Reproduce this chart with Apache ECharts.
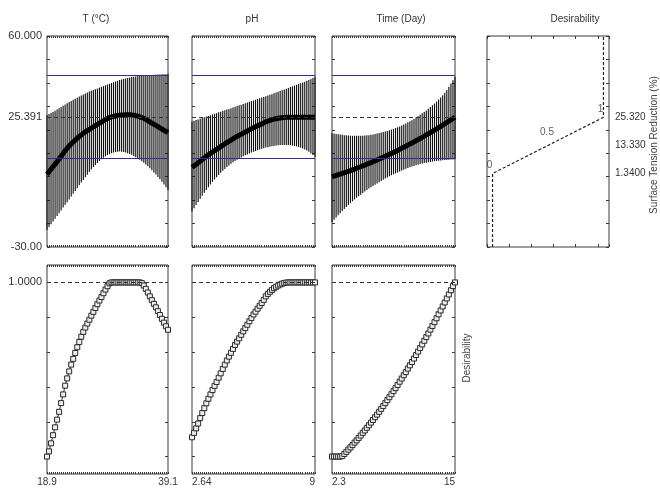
<!DOCTYPE html>
<html lang="en">
<head>
<meta charset="UTF-8">
<title>Desirability profile</title>
<style>
    html, body { margin: 0; padding: 0; background: #fff; }
    #chart { width: 660px; height: 488px; }
</style>
</head>
<body>
<div id="chart"></div>
<script src="https://cdn.jsdelivr.net/npm/echarts@6.0.0/dist/echarts.min.js"></script>
<script type="text/javascript">
    // factors and the labels at both ends of their ranges
    var factorNames = ['T (°C)', 'pH', 'Time (Day)'];
    var factorMin = ['18.9', '2.64', '2.3'];
    var factorMax = ['39.1', '9', '15'];

    // Surface Tension Reduction (%) : prediction and confidence limits on the 61 grid points
    var predT = [1.0, 2.07, 3.17, 4.3, 5.37, 6.43, 7.5, 8.7, 9.9, 11.1, 12.1, 13.07, 14.0, 14.8, 15.6, 16.4, 17.13, 17.83, 18.5, 19.1, 19.67, 20.2, 20.73, 21.27, 21.8, 22.33, 22.83, 23.3, 23.83, 24.33, 24.8, 25.2, 25.5, 25.7, 25.9, 26.07, 26.2, 26.27, 26.33, 26.4, 26.4, 26.37, 26.3, 26.17, 26.0, 25.8, 25.53, 25.23, 24.9, 24.43, 23.93, 23.4, 22.87, 22.37, 21.9, 21.37, 20.83, 20.3, 19.77, 19.27, 18.8];
    var lowT = [-22.7, -21.5, -20.3, -19.1, -17.97, -16.8, -15.6, -14.4, -13.2, -12.0, -10.87, -9.7, -8.5, -7.3, -6.1, -4.9, -3.7, -2.53, -1.4, -0.27, 0.87, 2.0, 3.07, 4.07, 5.0, 5.87, 6.67, 7.4, 8.07, 8.67, 9.2, 9.6, 9.97, 10.3, 10.5, 10.63, 10.7, 10.63, 10.5, 10.3, 10.03, 9.7, 9.3, 8.83, 8.33, 7.8, 7.2, 6.57, 5.9, 5.17, 4.4, 3.6, 2.73, 1.83, 0.9, -0.1, -1.13, -2.2, -3.33, -4.5, -5.7];
    var highT = [26.3, 26.77, 27.2, 27.6, 28.13, 28.67, 29.2, 29.73, 30.27, 30.8, 31.33, 31.83, 32.3, 32.77, 33.23, 33.7, 34.17, 34.63, 35.1, 35.5, 35.9, 36.3, 36.63, 36.97, 37.3, 37.63, 37.97, 38.3, 38.63, 38.97, 39.3, 39.63, 39.97, 40.3, 40.63, 40.93, 41.2, 41.47, 41.7, 41.9, 42.1, 42.3, 42.5, 42.63, 42.77, 42.9, 42.97, 43.03, 43.1, 43.17, 43.23, 43.3, 43.37, 43.43, 43.5, 43.57, 43.63, 43.7, 43.7, 43.73, 43.8];
    var desT = [0, 0.030, 0.076, 0.123, 0.168, 0.212, 0.257, 0.307, 0.357, 0.407, 0.449, 0.489, 0.528, 0.561, 0.595, 0.628, 0.658, 0.688, 0.716, 0.741, 0.764, 0.786, 0.809, 0.831, 0.853, 0.875, 0.896, 0.916, 0.938, 0.959, 0.978, 0.995, 1, 1, 1, 1, 1, 1, 1, 1, 1, 1, 1, 1, 1, 1, 1, 0.996, 0.982, 0.963, 0.942, 0.920, 0.898, 0.877, 0.857, 0.835, 0.813, 0.791, 0.769, 0.748, 0.728];

    var predPH = [4.0, 4.6, 5.23, 5.9, 6.63, 7.33, 8.0, 8.67, 9.3, 9.9, 10.5, 11.07, 11.6, 12.2, 12.8, 13.4, 14.0, 14.57, 15.1, 15.63, 16.17, 16.7, 17.17, 17.63, 18.1, 18.57, 19.03, 19.5, 19.97, 20.43, 20.9, 21.3, 21.7, 22.1, 22.5, 22.93, 23.4, 23.73, 24.03, 24.3, 24.53, 24.73, 24.9, 25.03, 25.15, 25.25, 25.30, 25.34, 25.35, 25.36, 25.36, 25.37, 25.38, 25.38, 25.38, 25.39, 25.39, 25.39, 25.39, 25.39, 25.39];
    var lowPH = [-14.9, -13.5, -12.13, -10.8, -9.47, -8.17, -6.9, -5.7, -4.5, -3.3, -2.23, -1.2, -0.2, 0.73, 1.63, 2.5, 3.3, 4.07, 4.8, 5.47, 6.1, 6.7, 7.23, 7.73, 8.2, 8.67, 9.1, 9.5, 9.9, 10.27, 10.6, 10.93, 11.27, 11.6, 11.87, 12.13, 12.4, 12.6, 12.8, 13.0, 13.13, 13.27, 13.4, 13.47, 13.5, 13.5, 13.5, 13.47, 13.4, 13.27, 13.1, 12.9, 12.63, 12.33, 12.0, 11.6, 11.13, 10.6, 9.93, 9.23, 8.5];
    var highPH = [23.5, 23.83, 24.13, 24.4, 24.73, 25.03, 25.3, 25.63, 25.93, 26.2, 26.53, 26.83, 27.1, 27.43, 27.73, 28.0, 28.33, 28.63, 28.9, 29.23, 29.53, 29.8, 30.13, 30.43, 30.7, 31.03, 31.33, 31.6, 31.93, 32.23, 32.5, 32.83, 33.13, 33.4, 33.73, 34.03, 34.3, 34.63, 34.93, 35.2, 35.53, 35.87, 36.2, 36.53, 36.87, 37.2, 37.53, 37.87, 38.2, 38.53, 38.87, 39.2, 39.53, 39.87, 40.2, 40.53, 40.87, 41.2, 41.67, 42.13, 42.6];
    var desPH = [0.111, 0.136, 0.162, 0.190, 0.221, 0.250, 0.278, 0.306, 0.332, 0.357, 0.382, 0.406, 0.428, 0.453, 0.478, 0.503, 0.528, 0.552, 0.574, 0.596, 0.618, 0.641, 0.660, 0.679, 0.699, 0.719, 0.738, 0.757, 0.777, 0.796, 0.816, 0.832, 0.849, 0.866, 0.882, 0.900, 0.920, 0.934, 0.946, 0.957, 0.967, 0.975, 0.982, 0.988, 0.993, 0.997, 0.999, 1, 1, 1, 1, 1, 1, 1, 1, 1, 1, 1, 1, 1, 1];

    var predTime = [0.00, 0.27, 0.54, 0.82, 1.11, 1.40, 1.69, 1.99, 2.30, 2.61, 2.93, 3.25, 3.58, 3.91, 4.24, 4.59, 4.93, 5.29, 5.65, 6.01, 6.38, 6.75, 7.13, 7.51, 7.90, 8.30, 8.70, 9.10, 9.51, 9.93, 10.35, 10.77, 11.20, 11.64, 12.08, 12.53, 12.98, 13.44, 13.90, 14.37, 14.84, 15.32, 15.80, 16.29, 16.78, 17.28, 17.79, 18.30, 18.81, 19.33, 19.85, 20.38, 20.92, 21.46, 22.01, 22.56, 23.11, 23.67, 24.24, 24.81, 25.39];
    var lowTime = [-19.4, -18.4, -17.43, -16.5, -15.57, -14.67, -13.8, -12.93, -12.1, -11.3, -10.5, -9.73, -9.0, -8.33, -7.67, -7.0, -6.33, -5.7, -5.1, -4.5, -3.93, -3.4, -2.87, -2.33, -1.8, -1.33, -0.8, -0.35, 0.15, 0.6, 1.0, 1.4, 1.8, 2.2, 2.6, 3.0, 3.4, 3.73, 4.03, 4.3, 4.57, 4.83, 5.1, 5.37, 5.6, 5.8, 5.93, 6.1, 6.3, 6.43, 6.57, 6.7, 6.77, 6.87, 7.0, 7.07, 7.13, 7.2, 7.27, 7.33, 7.4];
    var highTime = [18.6, 18.4, 18.23, 18.1, 17.97, 17.83, 17.7, 17.63, 17.57, 17.5, 17.43, 17.4, 17.4, 17.4, 17.43, 17.5, 17.57, 17.63, 17.7, 17.83, 18.0, 18.2, 18.4, 18.6, 18.8, 19.0, 19.23, 19.5, 19.77, 20.07, 20.4, 20.73, 21.07, 21.4, 21.8, 22.23, 22.7, 23.17, 23.63, 24.1, 24.63, 25.2, 25.8, 26.4, 27.0, 27.6, 28.27, 28.97, 29.7, 30.43, 31.2, 32.0, 32.87, 33.77, 34.7, 35.77, 36.97, 38.3, 39.7, 41.13, 42.6];
    var desTime = [0, 0, 0, 0, 0, 0.003, 0.015, 0.027, 0.040, 0.053, 0.066, 0.080, 0.093, 0.107, 0.121, 0.136, 0.150, 0.165, 0.180, 0.195, 0.210, 0.226, 0.241, 0.257, 0.274, 0.290, 0.307, 0.324, 0.341, 0.358, 0.376, 0.393, 0.411, 0.430, 0.448, 0.467, 0.485, 0.505, 0.524, 0.543, 0.563, 0.583, 0.603, 0.623, 0.644, 0.665, 0.686, 0.707, 0.729, 0.750, 0.772, 0.794, 0.817, 0.839, 0.862, 0.885, 0.908, 0.931, 0.955, 0.979, 1];

    // current prediction and its confidence limits
    var currentValue = 25.391;
    var ciLimits = [7.7, 43.1];

    // response axis
    var yMin = -30, yMax = 60;
    var yTickValues = [-30, -20, -10, 0, 10, 20, 30, 40, 50, 60];
    var yLabelValues = [60, 25.391, -30];
    var yLabelTexts = ['60.000', '25.391', '-30.00'];

    // desirability function of the response
    var desLevels = [1.34, 13.33, 25.32];
    var desScores = [0, 0.5, 1];
    var desLevelTexts = ['1.3400', '13.330', '25.320'];
    var desScoreTexts = ['0', '0.5', '1'];

    // desirability axis
    var dTickValues = [0, 0.2, 0.4, 0.6, 0.8, 1.0];
    var dLabelValues = [1.0];
    var dLabelTexts = ['1.0000'];

    var preds = [predT, predPH, predTime];
    var lows = [lowT, lowPH, lowTime];
    var highs = [highT, highPH, highTime];
    var dess = [desT, desPH, desTime];

    var FONT = '"Liberation Sans", Arial, sans-serif';
    var colLeft = [47, 192, 332, 487];
    var colWidth = [121, 123, 123, 122];
    var topRow = {top: 36, height: 211};
    var botRow = {top: 265, height: 209};

    var grids = [], xAxes = [], yAxes = [], series = [];

    function addGrid(col, row) {
        grids.push({
            left: colLeft[col], width: colWidth[col], top: row.top, height: row.height,
            show: true, borderColor: '#3a3a3a', borderWidth: 1, backgroundColor: 'transparent'
        });
        return grids.length - 1;
    }

    function tickStyle(len) {
        return {show: true, inside: true, length: len, lineStyle: {color: '#3a3a3a', width: 1}};
    }

    function plainX(gi, pos, min, max, interval, len) {
        return {
            gridIndex: gi, type: 'value', position: pos, min: min, max: max, interval: interval,
            axisLine: {show: false, onZero: false}, splitLine: {show: false},
            axisTick: tickStyle(len), axisLabel: {show: false}
        };
    }

    // bottom + top x axes over the grid points
    function addIndexAxes(gi, p, withLabels) {
        var n = preds[p].length;
        var bottom = plainX(gi, 'bottom', 0, n - 1, 1, 2);
        if (withLabels) {
            bottom.axisLabel = {
                show: true, customValues: [0, n - 1], margin: 3,
                fontFamily: FONT, fontSize: 10, color: '#333',
                alignMinLabel: p === 0 ? 'center' : 'left',
                alignMaxLabel: p === 0 ? 'center' : 'right',
                formatter: function (v) { return v === 0 ? factorMin[p] : factorMax[p]; }
            };
        }
        xAxes.push(bottom);
        xAxes.push(plainX(gi, 'top', 0, n - 1, 1, 2));
        return xAxes.length - 2;
    }

    function addYAxes(gi, min, max, ticks, leftLabels, rightLabels) {
        var make = function (pos, labels) {
            var ax = {
                gridIndex: gi, type: 'value', position: pos, min: min, max: max,
                axisLine: {show: false, onZero: false}, splitLine: {show: false},
                axisTick: {show: true, inside: true, length: 3, customValues: ticks,
                    lineStyle: {color: '#3a3a3a', width: 1}},
                axisLabel: {show: false}
            };
            if (labels) {
                ax.axisLabel = {
                    show: true, customValues: labels.values, margin: labels.margin,
                    fontFamily: FONT, fontSize: labels.size, color: '#333',
                    formatter: function (v) {
                        var k = labels.values.indexOf(v);
                        return k < 0 ? '' : labels.texts[k];
                    }
                };
            }
            return ax;
        };
        yAxes.push(make('left', leftLabels));
        yAxes.push(make('right', rightLabels));
        return yAxes.length - 2;
    }

    function barItem(params, api) {
        var lo = api.coord([api.value(0), api.value(1)]);
        var hi = api.coord([api.value(0), api.value(2)]);
        return {
            type: 'line',
            shape: {x1: lo[0], y1: lo[1], x2: hi[0], y2: hi[1]},
            style: {stroke: '#111', lineWidth: 1.15}
        };
    }

    // top row: prediction profiles with confidence bars
    for (var p = 0; p < 3; p++) {
        var gi = addGrid(p, topRow);
        var xi = addIndexAxes(gi, p, false);
        var yi = addYAxes(gi, yMin, yMax, yTickValues,
            p === 0 ? {values: yLabelValues, texts: yLabelTexts, margin: 5, size: 11} : null, null);
        var bars = lows[p].map(function (lo, i) { return [i, lo, highs[p][i]]; });
        series.push({
            type: 'custom', xAxisIndex: xi, yAxisIndex: yi, renderItem: barItem,
            encode: {x: 0, y: [1, 2]}, data: bars, z: 2, silent: true
        });
        series.push({
            type: 'line', xAxisIndex: xi, yAxisIndex: yi, symbol: 'none', z: 4,
            data: preds[p].map(function (v, i) { return [i, v]; }),
            lineStyle: {color: '#000', width: 5},
            markLine: {
                silent: true, symbol: 'none', label: {show: false},
                data: [
                    {yAxis: currentValue, lineStyle: {color: '#333', type: [4, 3], width: 1}},
                    {yAxis: ciLimits[0], lineStyle: {color: '#2e2e8a', type: 'solid', width: 1}},
                    {yAxis: ciLimits[1], lineStyle: {color: '#2e2e8a', type: 'solid', width: 1}}
                ]
            }
        });
    }

    // top right: desirability function of the response
    (function () {
        var gi = addGrid(3, topRow);
        xAxes.push(plainX(gi, 'bottom', -0.05, 1.05, 0.2, 3));
        xAxes.push(plainX(gi, 'top', -0.05, 1.05, 0.2, 3));
        var xi = xAxes.length - 2;
        var yi = addYAxes(gi, yMin, yMax, yTickValues, null,
            {values: desLevels, texts: desLevelTexts, margin: 6, size: 10});
        var pts = [[desScores[0], yMin]];
        desLevels.forEach(function (lv, i) { pts.push([desScores[i], lv]); });
        pts.push([desScores[desScores.length - 1], yMax]);
        series.push({
            type: 'line', xAxisIndex: xi, yAxisIndex: yi, symbol: 'none', data: pts,
            lineStyle: {color: '#222', width: 1.2, type: [3, 2]}
        });
        var offsets = [[-3, 0], [-1, -5], [-3, 0]];
        series.push({
            type: 'scatter', xAxisIndex: xi, yAxisIndex: yi, symbolSize: 1,
            itemStyle: {color: 'rgba(0,0,0,0)'},
            data: desLevels.map(function (lv, i) {
                return {value: [desScores[i], lv], label: {formatter: desScoreTexts[i], offset: offsets[i]}};
            }),
            label: {show: true, position: 'top', distance: 3,
                fontFamily: FONT, fontSize: 10, color: '#333'}
        });
    })();

    // bottom row: desirability profiles
    for (var q = 0; q < 3; q++) {
        var gb = addGrid(q, botRow);
        var xb = addIndexAxes(gb, q, true);
        var yb = addYAxes(gb, -0.1, 1.1, dTickValues,
            q === 0 ? {values: dLabelValues, texts: dLabelTexts, margin: 5, size: 11} : null, null);
        series.push({
            type: 'line', xAxisIndex: xb, yAxisIndex: yb, symbol: 'rect', symbolSize: 5,
            showAllSymbol: true,
            data: dess[q].map(function (v, i) { return [i, v]; }),
            lineStyle: {color: '#333', width: 1},
            itemStyle: {color: '#eeeeee', borderColor: '#2a2a2a', borderWidth: 1},
            markLine: {
                silent: true, symbol: 'none', label: {show: false},
                data: [{yAxis: 1, lineStyle: {color: '#333', type: [4, 3], width: 1}}]
            }
        });
    }

    var titleX = [96, 252, 401, 575];
    var graphics = factorNames.concat(['Desirability']).map(function (t, i) {
        return {
            type: 'text', x: titleX[i], y: 19,
            style: {text: t, fontFamily: FONT, fontSize: 10, fill: '#333', align: 'center', verticalAlign: 'middle'}
        };
    });
    graphics.push({
        type: 'text', x: 654, y: 145, rotation: Math.PI / 2,
        style: {text: 'Surface Tension Reduction (%)', fontFamily: FONT, fontSize: 10, fill: '#444',
            align: 'center', verticalAlign: 'middle'}
    });
    graphics.push({
        type: 'text', x: 467, y: 358, rotation: Math.PI / 2,
        style: {text: 'Desirability', fontFamily: FONT, fontSize: 10, fill: '#444',
            align: 'center', verticalAlign: 'middle'}
    });

    var myChart = echarts.init(document.getElementById('chart'));
    myChart.setOption({
        backgroundColor: '#fff',
        animation: false,
        grid: grids,
        xAxis: xAxes,
        yAxis: yAxes,
        series: series,
        graphic: graphics
    });
</script>
</body>
</html>
